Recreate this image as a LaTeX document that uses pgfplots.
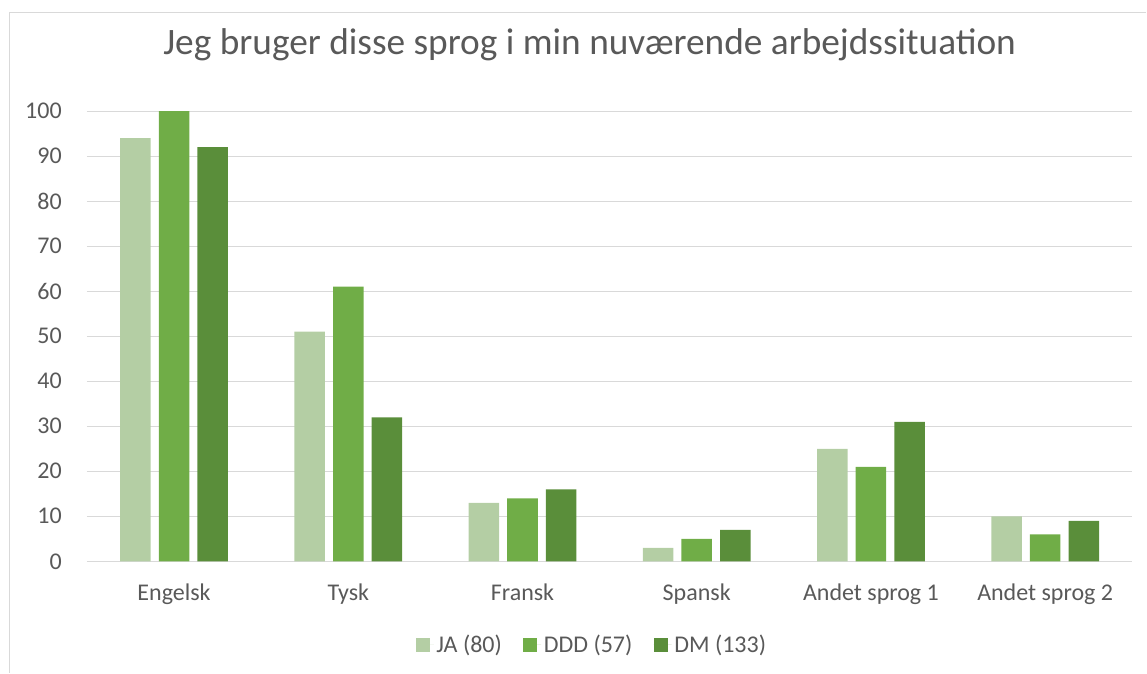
\documentclass[border=0pt]{standalone}
\usepackage{pgfplots}
\pgfplotsset{compat=1.18}
\usepackage{fontspec}
\setmainfont{Carlito}
\definecolor{ja}{HTML}{B4CEA4}
\definecolor{ddd}{HTML}{70AD47}
\definecolor{dm}{HTML}{5A8E3A}
\definecolor{gridc}{HTML}{D9D9D9}
\definecolor{txt}{HTML}{595959}
\begin{document}
\begin{tikzpicture}
\path (0,0) rectangle (860.25pt,504.75pt);
\draw[gridc, line width=1.1pt] (7.1pt,0) -- (7.1pt,495.4pt) -- (860.25pt,495.4pt);
\node[font=\fontsize{28}{30}\selectfont, text=txt] at (442.5pt,471pt) {Jeg bruger disse sprog i min nuværende arbejdssituation};
\begin{axis}[
  at={(65.25pt,83.5pt)}, anchor=south west,
  width=784.5pt, height=337.8pt, scale only axis,
  xmin=-0.5, xmax=5.5, ymin=0, ymax=100,
  ytick={0,10,...,100},
  xtick={0,...,5},
  xticklabels={Engelsk,Tysk,Fransk,Spansk,Andet sprog 1,Andet sprog 2},
  ymajorgrids, grid style={gridc, line width=1pt},
  axis lines=left, axis line style={draw=none},
  major tick length=0pt, tick style={draw=none},
  tick label style={font=\fontsize{18}{20}\selectfont, text=txt},
  /pgf/number format/assume math mode=true,
  yticklabel style={anchor=east, inner sep=0pt, xshift=-18.75pt},
  xticklabel style={anchor=north, inner sep=0pt, yshift=-17pt},
  ybar, bar width=22.9pt,
  legend style={draw=none, legend columns=3, at={(0.5,0)}, anchor=center,
    xshift=-13pt, yshift=-62.5pt, font=\fontsize{18}{20}\selectfont, text=txt,
    /tikz/every even column/.append style={column sep=14pt},
    nodes={inner sep=2pt}},
  legend image code/.code={\fill[#1] (0pt,-5.25pt) rectangle (10.5pt,5.25pt); \path (0pt,0pt) -- (13.5pt,0pt);},
]
\addplot[fill=ja, draw=none, bar shift=-29pt] coordinates {(0,94) (1,51) (2,13) (3,3) (4,25) (5,10)};
\addplot[fill=ddd, draw=none, bar shift=0pt] coordinates {(0,100) (1,61) (2,14) (3,5) (4,21) (5,6)};
\addplot[fill=dm, draw=none, bar shift=29pt] coordinates {(0,92) (1,32) (2,16) (3,7) (4,31) (5,9)};
\legend{JA (80), DDD (57), DM (133)}
\end{axis}
\end{tikzpicture}
\end{document}
